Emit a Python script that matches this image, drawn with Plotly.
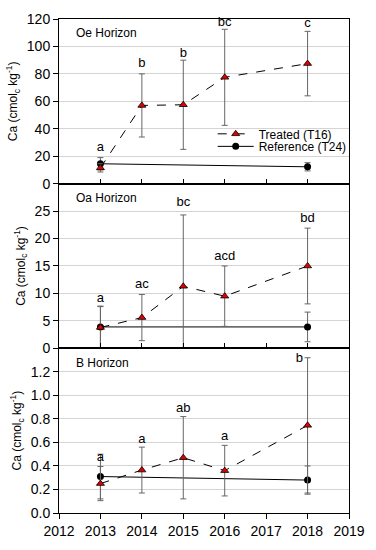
import plotly.graph_objects as go
from plotly.subplots import make_subplots

years_t = [2013, 2014, 2015, 2016, 2018]
years_r = [2013, 2018]

# Oe horizon
oe_treated = [11.5, 57, 57.5, 77.5, 87.5]
oe_treated_err = [3, 23, 32.5, 35, 23.5]
oe_ref = [14.5, 12.3]
oe_ref_err = [4.5, 3]
oe_letters = ["a", "b", "b", "bc", "c"]
oe_letter_x = [2013, 2014, 2015, 2016, 2018]
oe_letter_y = [26.3, 87.2, 95, 117.2, 116.5]

# Oa horizon
oa_treated = [3.8, 5.6, 11.3, 9.5, 15.0]
oa_treated_err = [3.8, 4.2, 13, 5.5, 6.9]
oa_ref = [3.9, 3.9]
oa_ref_err = [3.8, 2.7]
oa_letters = ["a", "ac", "bc", "acd", "bd"]
oa_letter_x = [2013, 2014, 2015, 2016, 2018]
oa_letter_y = [9.1, 11.5, 26.5, 16.7, 23.6]

# B horizon
b_treated = [0.25, 0.365, 0.47, 0.36, 0.745]
b_treated_err = [0.145, 0.195, 0.35, 0.215, 0.575]
b_ref = [0.31, 0.28]
b_ref_err = [0.19, 0.12]
b_letters = ["a", "a", "ab", "a", "b"]
b_letter_x = [2013, 2014, 2015, 2016, 2017.8]
b_letter_y = [0.472, 0.62, 0.887, 0.644, 1.31]

horizons = ["Oe Horizon", "Oa Horizon", "B Horizon"]
y_ranges = [[0, 120], [0, 30], [0, 1.4]]
y_tickvals = [
    [0, 20, 40, 60, 80, 100, 120],
    [0, 5, 10, 15, 20, 25],
    [0.0, 0.2, 0.4, 0.6, 0.8, 1.0, 1.2],
]
y_formats = ["d", "d", ".1f"]
x_ticks = [2012, 2013, 2014, 2015, 2016, 2017, 2018, 2019]

panels = [
    (oe_treated, oe_treated_err, oe_ref, oe_ref_err, oe_letters, oe_letter_x, oe_letter_y),
    (oa_treated, oa_treated_err, oa_ref, oa_ref_err, oa_letters, oa_letter_x, oa_letter_y),
    (b_treated, b_treated_err, b_ref, b_ref_err, b_letters, b_letter_x, b_letter_y),
]

FONT = "Liberation Sans, Arial, sans-serif"
ERR_COLOR = "#666666"

fig = make_subplots(rows=3, cols=1, shared_xaxes=False, vertical_spacing=0)

for i, (t, te, r, re_, letters, lx, ly) in enumerate(panels):
    row = i + 1
    fig.add_trace(go.Scatter(
        x=years_r, y=r, mode="lines+markers", name="Reference (T24)",
        line=dict(color="black", width=1),
        marker=dict(symbol="circle", size=7, color="black"),
        error_y=dict(type="data", array=re_, color=ERR_COLOR, thickness=1, width=3),
        showlegend=(i == 0), legend="legend2",
    ), row=row, col=1)
    fig.add_trace(go.Scatter(
        x=years_t, y=t, mode="lines+markers", name="Treated (T16)",
        line=dict(color="black", width=1, dash="dash"),
        marker=dict(symbol="triangle-up", size=7, color="#e00000",
                    line=dict(color="black", width=0.8)),
        error_y=dict(type="data", array=te, color=ERR_COLOR, thickness=1, width=3),
        showlegend=(i == 0), legend="legend",
    ), row=row, col=1)
    fig.add_trace(go.Scatter(
        x=lx, y=ly, mode="text", text=letters, textposition="middle center",
        textfont=dict(size=13, color="black", family=FONT),
        showlegend=False, hoverinfo="skip", cliponaxis=False,
    ), row=row, col=1)
    fig.add_annotation(
        text=horizons[i], xref="x domain" if i == 0 else f"x{row} domain",
        yref="y domain" if i == 0 else f"y{row} domain",
        x=0.053, y=1 - 15 / 171, xanchor="left", yanchor="middle",
        showarrow=False, font=dict(size=12, color="black", family=FONT),
    )
    fig.update_yaxes(
        range=y_ranges[i], tickvals=y_tickvals[i], tickformat=y_formats[i],
        showgrid=True, gridcolor="#d4d4d4", gridwidth=1,
        showline=True, linecolor="black", linewidth=1, mirror=True,
        ticks="outside", ticklen=5, tickcolor="black",
        zeroline=False,
        title=dict(text="Ca (cmol<sub>c</sub> kg<sup>-1</sup>)", standoff=6,
                   font=dict(size=12, family=FONT, color="black")),
        tickfont=dict(size=14, family=FONT, color="black"),
        row=row, col=1,
    )
    fig.update_xaxes(
        range=[2012, 2019], tickvals=x_ticks,
        showgrid=False, zeroline=False,
        showline=True, linecolor="black", linewidth=1, mirror=True,
        ticks="outside" if row == 3 else "inside", ticklen=5, tickcolor="black",
        showticklabels=(row == 3),
        tickfont=dict(size=14, family=FONT, color="black"),
        row=row, col=1,
    )

leg_common = dict(xanchor="left", yanchor="middle", bgcolor="rgba(0,0,0,0)",
                  font=dict(size=12, family=FONT, color="black"),
                  itemwidth=36, borderwidth=0)
fig.update_layout(
    width=376, height=550,
    margin=dict(l=59, r=19, t=11, b=27),
    plot_bgcolor="white", paper_bgcolor="white",
    font=dict(family=FONT, color="black"),
    legend=dict(x=0.53, y=1 - (130 - 11) / 512, **leg_common),
    legend2=dict(x=0.53, y=1 - (143 - 11) / 512, **leg_common),
)

fig.write_html("out.html", config={"displayModeBar": False},
               post_script="document.body.style.margin='0';")
